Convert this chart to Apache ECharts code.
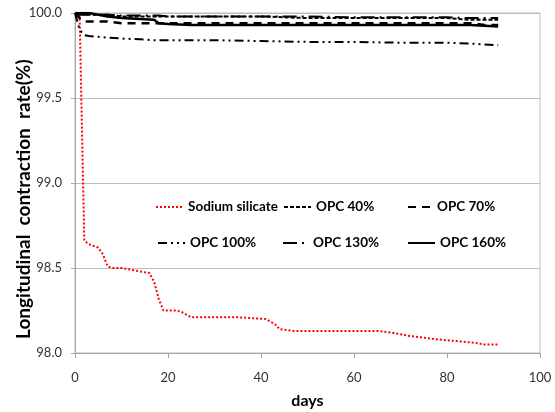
<!DOCTYPE html>
<html>
<head>
<meta charset="utf-8">
<script src="https://cdn.jsdelivr.net/npm/echarts@6/dist/echarts.min.js"></script>
<style>
  html, body { margin: 0; padding: 0; background: #fff; }
  #chart { width: 555px; height: 412px; }
</style>
</head>
<body>
<div id="chart"></div>
<script>
// sodium silicate curve (own sampling days)
var silicateDays = [0, 1, 2, 3, 4, 5, 6, 7, 8, 10, 12, 14, 16, 17, 18, 19, 22, 23, 25, 30, 35, 41, 43, 44, 47, 55, 65, 68, 72, 75, 78, 82, 86, 88, 91]
var silicate = [100.0, 99.98, 98.66, 98.64, 98.63, 98.62, 98.58, 98.51, 98.50, 98.50, 98.49, 98.48, 98.47, 98.42, 98.32, 98.25, 98.25, 98.24, 98.21, 98.21, 98.21, 98.20, 98.17, 98.14, 98.13, 98.13, 98.13, 98.12, 98.10, 98.09, 98.08, 98.07, 98.06, 98.05, 98.05]

// OPC curves share sampling days
var opcDays = [0, 1, 2, 3, 5, 7, 10, 14, 17, 18, 20, 25, 30, 40, 50, 60, 70, 80, 85, 88, 91]
var opc40 = [100, 100, 99.99, 99.99, 99.99, 99.99, 99.98, 99.98, 99.98, 99.98, 99.98, 99.98, 99.98, 99.98, 99.97, 99.97, 99.97, 99.97, 99.96, 99.96, 99.96]
var opc70 = [100, 99.97, 99.95, 99.95, 99.95, 99.95, 99.94, 99.94, 99.94, 99.94, 99.94, 99.94, 99.94, 99.94, 99.94, 99.94, 99.94, 99.94, 99.94, 99.93, 99.93]
var opc100 = [100, 99.90, 99.87, 99.865, 99.86, 99.855, 99.85, 99.845, 99.84, 99.84, 99.84, 99.84, 99.84, 99.835, 99.83, 99.83, 99.825, 99.825, 99.82, 99.815, 99.81]
var opc130 = [100, 99.99, 99.99, 99.99, 99.99, 99.99, 99.985, 99.985, 99.985, 99.985, 99.98, 99.98, 99.98, 99.98, 99.98, 99.975, 99.975, 99.975, 99.97, 99.97, 99.97]
var opc160 = [100, 100, 100, 100, 99.99, 99.98, 99.97, 99.965, 99.96, 99.94, 99.935, 99.93, 99.93, 99.93, 99.93, 99.93, 99.93, 99.93, 99.93, 99.925, 99.92]

var seriesNames = ['Sodium silicate', 'OPC 40%', 'OPC 70%', 'OPC 100%', 'OPC 130%', 'OPC 160%']
var yTicks = [98.0, 98.5, 99.0, 99.5, 100.0]

function pairs(xs, ys) {
  var out = []
  for (var i = 0; i < xs.length; i++) out.push([xs[i], ys[i]])
  return out
}

var font = 'Lato'
var legendText = { fontFamily: font, fontWeight: 'bold', fontSize: 13.5, color: '#000' }

function legendAt(name, left, top, w) {
  return {
    data: [name], left: left, top: top, padding: 0,
    itemWidth: w, itemHeight: 14, textStyle: legendText,
    itemStyle: { opacity: 0 }
  }
}

function line(name, xs, ys, color, width, type) {
  return {
    name: name, type: 'line', symbol: 'none', data: pairs(xs, ys),
    lineStyle: { color: color, width: width, type: type },
    itemStyle: { color: color }
  }
}

var myChart = echarts.init(document.getElementById('chart'))
myChart.setOption({
  animation: false,
  grid: {
    left: 75, right: 15, top: 13, bottom: 59,
    outerBoundsMode: 'none', containLabel: false,
    show: true, borderColor: '#bdbdbd', borderWidth: 1
  },
  legend: [
    legendAt(seriesNames[0], 155, 200, 27),
    legendAt(seriesNames[1], 283, 200, 27),
    legendAt(seriesNames[2], 407, 200, 24),
    legendAt(seriesNames[3], 157, 236, 27),
    legendAt(seriesNames[4], 282, 236, 25),
    legendAt(seriesNames[5], 407, 236, 27)
  ],
  xAxis: {
    type: 'value', min: 0, max: 100, interval: 20,
    name: 'days', nameLocation: 'middle', nameGap: 40, nameMoveOverlap: false,
    nameTextStyle: { fontFamily: font, fontWeight: 'bold', fontSize: 16, color: '#000' },
    axisLine: { lineStyle: { color: '#a6a6a6' } },
    axisTick: { show: true, length: 5, lineStyle: { color: '#a6a6a6' } },
    axisLabel: { fontFamily: font, fontSize: 13, color: '#333', margin: 18 },
    splitLine: { show: false }
  },
  yAxis: {
    type: 'value', min: yTicks[0], max: yTicks[yTicks.length - 1], interval: 0.5,
    // trailing spaces push the title a little down, as in the source image
    name: 'Longitudinal  contraction  rate(%)       ', nameLocation: 'middle', nameGap: 42,
    nameMoveOverlap: false,
    nameTextStyle: { fontFamily: font, fontWeight: 'bold', fontSize: 19, color: '#000' },
    axisLine: { show: true, lineStyle: { color: '#a6a6a6' } },
    axisTick: { show: true, length: 4, lineStyle: { color: '#a6a6a6' } },
    axisLabel: {
      fontFamily: font, fontSize: 13, color: '#333', margin: 13,
      formatter: function (v) { return v.toFixed(1) }
    },
    splitLine: { lineStyle: { color: '#bdbdbd' } }
  },
  series: [
    line(seriesNames[0], silicateDays, silicate, '#ff0000', 2, [2, 2]),
    line(seriesNames[1], opcDays, opc40, '#000', 2, [4, 2]),
    line(seriesNames[2], opcDays, opc70, '#000', 2.5, [8, 6]),
    line(seriesNames[3], opcDays, opc100, '#000', 2, [9, 4, 2, 4, 2, 4]),
    line(seriesNames[4], opcDays, opc130, '#000', 2, [14, 5, 2, 5]),
    line(seriesNames[5], opcDays, opc160, '#000', 2.5, 'solid')
  ]
})
</script>
</body>
</html>
